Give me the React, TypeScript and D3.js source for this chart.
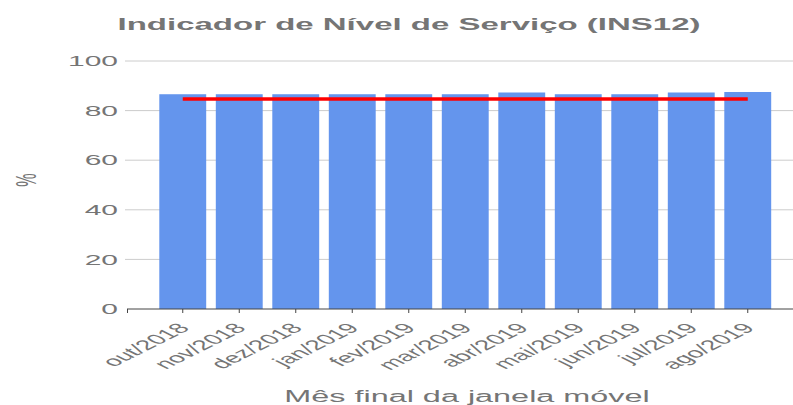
import React, { useEffect, useRef } from "react";
import * as d3 from "d3";

const months = [
  "out/2018",
  "nov/2018",
  "dez/2018",
  "jan/2019",
  "fev/2019",
  "mar/2019",
  "abr/2019",
  "mai/2019",
  "jun/2019",
  "jul/2019",
  "ago/2019",
];
const ins12 = [86.6, 86.6, 86.6, 86.6, 86.6, 86.6, 87.3, 86.6, 86.6, 87.3, 87.5];
const meta = [84.7, 84.7, 84.7, 84.7, 84.7, 84.7, 84.7, 84.7, 84.7, 84.7, 84.7];
const yTicks = [0, 20, 40, 60, 80, 100];

const App = () => {
  const chartRef = useRef<SVGSVGElement>(null);

  useEffect(() => {
    const width = 793;
    const height = 405;
    const margin = { top: 61, right: 0, bottom: 96, left: 127 };
    const font = "'Liberation Sans', Arial, sans-serif";
    const textColor = "#757575";
    const sx = 2; // the original picture is stretched sideways

    const svg = d3.select(chartRef.current);
    svg.selectAll("*").remove();

    const x = d3
      .scaleBand<string>()
      .domain(months)
      .range([margin.left + 27.5, width - 17])
      .paddingInner(0.17)
      .paddingOuter(0.085);

    const y = d3
      .scaleLinear()
      .domain([0, 100])
      .range([height - margin.bottom, margin.top]);

    const cx = (d: string) => (x(d) as number) + x.bandwidth() / 2;

    // grid
    svg
      .selectAll(".grid")
      .data(yTicks.filter((d) => d > 0))
      .enter()
      .append("line")
      .attr("x1", margin.left - 2)
      .attr("x2", width - margin.right)
      .attr("y1", (d) => y(d))
      .attr("y2", (d) => y(d))
      .attr("stroke", "#cccccc")
      .attr("stroke-width", 1);

    // bars
    svg
      .selectAll("rect.bar")
      .data(months)
      .enter()
      .append("rect")
      .attr("class", "bar")
      .attr("x", (d) => x(d) as number)
      .attr("y", (d, i) => y(ins12[i]))
      .attr("width", x.bandwidth())
      .attr("height", (d, i) => y(0) - y(ins12[i]))
      .attr("fill", "#6495ED");

    // baseline + ticks
    svg
      .append("line")
      .attr("x1", margin.left)
      .attr("x2", width - margin.right)
      .attr("y1", y(0))
      .attr("y2", y(0))
      .attr("stroke", "#444444")
      .attr("stroke-width", 1);

    svg
      .selectAll(".xtick")
      .data([margin.left + 0.5, ...months.map(cx)])
      .enter()
      .append("line")
      .attr("x1", (d) => d)
      .attr("x2", (d) => d)
      .attr("y1", y(0))
      .attr("y2", y(0) + 4)
      .attr("stroke", "#444444")
      .attr("stroke-width", 1);

    // meta line
    const line = d3
      .line<number>()
      .x((d, i) => cx(months[i]))
      .y((d) => y(d));

    svg
      .append("path")
      .datum(meta)
      .attr("fill", "none")
      .attr("stroke", "#ff0000")
      .attr("stroke-width", 3.5)
      .attr("d", line);

    // y labels
    svg
      .selectAll(".ylabel")
      .data(yTicks)
      .enter()
      .append("text")
      .attr("transform", (d) => `translate(118, ${y(d)}) scale(${sx}, 1)`)
      .attr("dy", "0.35em")
      .attr("text-anchor", "end")
      .style("font-family", font)
      .style("font-size", "15px")
      .style("fill", textColor)
      .text((d) => d);

    // x labels
    svg
      .selectAll(".xlabel")
      .data(months)
      .enter()
      .append("text")
      .attr("transform", (d) => `translate(${cx(d) + 8}, ${y(0) + 20}) scale(${sx}, 1) rotate(-45)`)
      .attr("text-anchor", "end")
      .style("font-family", font)
      .style("font-size", "14px")
      .style("fill", textColor)
      .text((d) => d);

    // titles
    svg
      .append("text")
      .attr("transform", `translate(409, 30) scale(${sx}, 1)`)
      .attr("text-anchor", "middle")
      .style("font-family", font)
      .style("font-size", "16.5px")
      .style("font-weight", "bold")
      .style("fill", textColor)
      .text("Indicador de Nível de Serviço (INS12)");

    svg
      .append("text")
      .attr("transform", `translate(467, 402) scale(${sx}, 1)`)
      .attr("text-anchor", "middle")
      .style("font-family", font)
      .style("font-size", "16.2px")
      .style("fill", textColor)
      .text("Mês final da janela móvel");

    svg
      .append("text")
      .attr("transform", `translate(25, 180) scale(${sx}, 1) rotate(-90)`)
      .attr("text-anchor", "middle")
      .attr("dy", "0.35em")
      .style("font-family", font)
      .style("font-size", "15px")
      .style("fill", textColor)
      .text("%");
  }, []);

  return (
    <svg
      ref={chartRef}
      width={793}
      height={405}
      style={{ position: "absolute", left: 0, top: 0, background: "#fff" }}
    />
  );
};

export default App;
